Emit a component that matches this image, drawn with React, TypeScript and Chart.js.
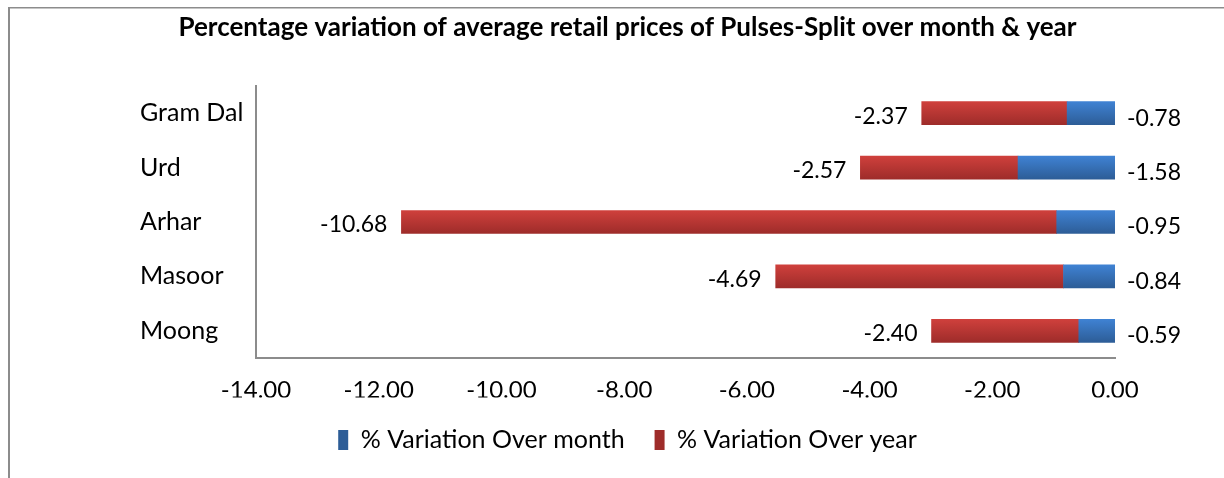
import React, { useEffect, useRef } from "react";
import { Chart, registerables } from "chart.js";

Chart.register(...registerables);

const titleText =
  "Percentage variation of average retail prices of Pulses-Split over month & year";
const categories = ["Gram Dal", "Urd", "Arhar", "Masoor", "Moong"];
const overMonth = [-0.78, -1.58, -0.95, -0.84, -0.59];
const overYear = [-2.37, -2.57, -10.68, -4.69, -2.4];
const seriesNames = ["% Variation Over month", "% Variation Over year"];
const xMin = -14;
const xMax = 0;
const xStep = 2;

const FONT = "Lato, 'Open Sans', 'DejaVu Sans', sans-serif";
const BAR_T = 23;

const palette = {
  blue: { top: "#3f82d3", bottom: "#2d5d97", solid: "#3872bd" },
  red: { top: "#cf403c", bottom: "#9e2c2a", solid: "#c0393a" },
};

function gradFill(key: "blue" | "red") {
  return (c: any) => {
    const p = palette[key];
    const chart = c.chart;
    const ys = chart.scales && chart.scales.y;
    if (c.dataIndex == null || !ys || c.type !== "data") return p.solid;
    const cy = ys.getPixelForValue(c.dataIndex);
    if (!isFinite(cy)) return p.solid;
    const g = chart.ctx.createLinearGradient(0, cy - BAR_T / 2, 0, cy + BAR_T / 2);
    g.addColorStop(0, p.top);
    g.addColorStop(1, p.bottom);
    return g;
  };
}

const framePlugin = {
  id: "frame",
  beforeDraw(chart: any) {
    const ctx = chart.ctx;
    ctx.save();
    ctx.fillStyle = "#ffffff";
    ctx.fillRect(0, 0, chart.width, chart.height);
    ctx.fillStyle = "#8c8c8c";
    ctx.fillRect(8, 7, chart.width - 8, 1.5);
    ctx.fillRect(8, 7, 2, chart.height - 7);
    ctx.restore();
  },
};

const labelPlugin = {
  id: "valueLabels",
  afterDatasetsDraw(chart: any) {
    const ctx = chart.ctx;
    const zero = chart.scales.x.getPixelForValue(0);
    const mMonth = chart.getDatasetMeta(0);
    const mYear = chart.getDatasetMeta(1);
    ctx.save();
    ctx.font = `23px ${FONT}`;
    ctx.fillStyle = "#000000";
    ctx.textBaseline = "middle";
    categories.forEach((_, i) => {
      const red = mYear.data[i].getProps(["x", "base", "y"], true);
      const left = Math.min(red.x, red.base);
      ctx.textAlign = "right";
      ctx.fillText(overYear[i].toFixed(2), left - 14, red.y + 3);
      const blue = mMonth.data[i].getProps(["y"], true);
      ctx.textAlign = "left";
      ctx.fillText(overMonth[i].toFixed(2), zero + 12, blue.y + 5);
    });
    ctx.restore();
  },
};

export default function App() {
  const ref = useRef<HTMLCanvasElement | null>(null);

  useEffect(() => {
    if (!ref.current) return;
    const chart = new Chart(ref.current, {
      type: "bar",
      data: {
        labels: categories,
        datasets: [
          {
            label: seriesNames[0],
            data: overMonth,
            backgroundColor: gradFill("blue") as any,
            barThickness: BAR_T,
          },
          {
            label: seriesNames[1],
            data: overYear,
            backgroundColor: gradFill("red") as any,
            barThickness: BAR_T,
          },
        ],
      },
      options: {
        indexAxis: "y",
        responsive: false,
        animation: false,
        devicePixelRatio: 1,
        layout: { padding: { left: 140, right: 109, top: 0, bottom: 15.5 } },
        scales: {
          x: {
            stacked: true,
            min: xMin,
            max: xMax,
            grid: { display: false },
            border: { display: true, color: "#8c8c8c", width: 2 },
            ticks: {
              stepSize: xStep,
              padding: 10,
              color: "#000",
              font: { family: FONT, size: 24 },
              maxRotation: 0,
              autoSkip: false,
              callback: (v: any) => Number(v).toFixed(2),
            },
            afterFit: (s: any) => {
              s.height = 39.5;
            },
          },
          y: {
            stacked: true,
            grid: { display: false },
            border: { display: true, color: "#8c8c8c", width: 2 },
            ticks: {
              crossAlign: "far",
              color: "#000",
              font: { family: FONT, size: 25 },
            },
            afterFit: (s: any) => {
              s.width = 116;
            },
          },
        },
        plugins: {
          title: {
            display: true,
            text: titleText,
            color: "#000",
            font: { family: FONT, size: 26, weight: "bold", lineHeight: 1.2 },
            padding: { top: 12.5, bottom: 42.3 },
          },
          legend: {
            position: "bottom",
            labels: {
              boxWidth: 10,
              boxHeight: 20,
              padding: 30,
              color: "#000",
              font: { family: FONT, size: 25 },
            },
          },
          tooltip: { enabled: false },
        },
      },
      plugins: [framePlugin, labelPlugin],
    });
    return () => chart.destroy();
  }, []);

  return (
    <div style={{ position: "absolute", left: 0, top: 0, width: 1224, height: 478 }}>
      <canvas ref={ref} width={1224} height={478} style={{ width: 1224, height: 478 }} />
    </div>
  );
}
